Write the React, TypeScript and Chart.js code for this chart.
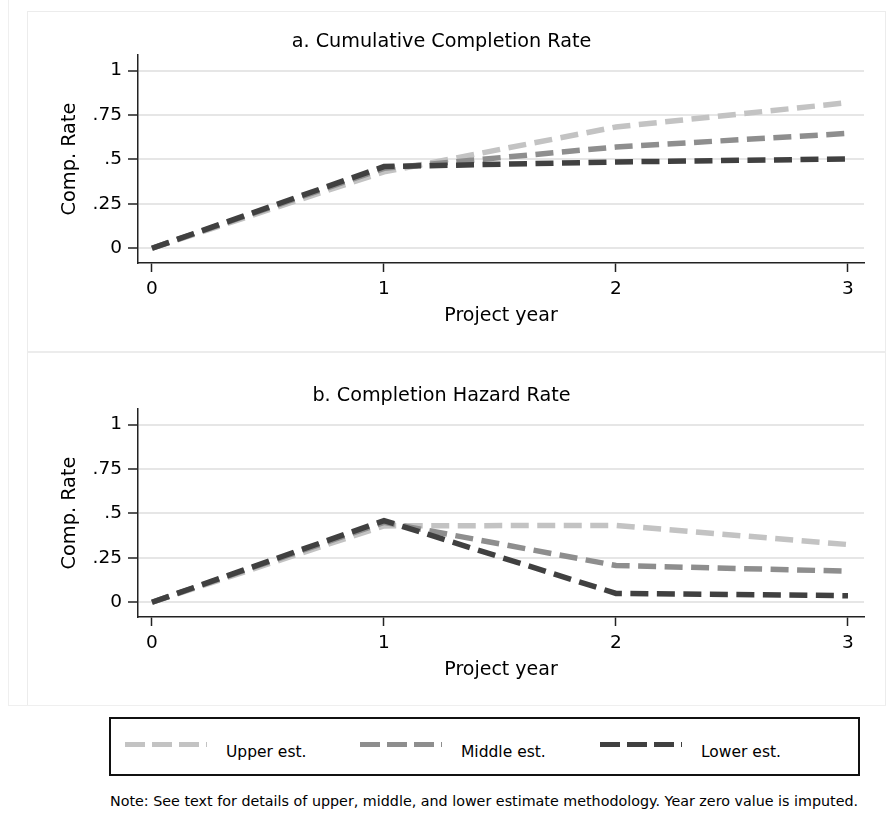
import React, { useEffect, useRef } from "react";
import { Chart, registerables } from "chart.js";

Chart.register(...registerables);

const years = [0, 1, 2, 3];
const yTickValues = [0, 0.25, 0.5, 0.75, 1];
const yTickLabels = ["0", ".25", ".5", ".75", "1"];

const cumUpper = [0, 0.43, 0.683, 0.82];
const cumMiddle = [0, 0.45, 0.57, 0.647];
const cumLower = [0, 0.46, 0.486, 0.503];

const hazUpper = [0, 0.43, 0.433, 0.325];
const hazMiddle = [0, 0.45, 0.207, 0.175];
const hazLower = [0, 0.46, 0.05, 0.037];

const seriesNames = ["Upper est.", "Middle est.", "Lower est."];
const seriesColors = ["#c3c3c3", "#8e8e8e", "#404040"];

const FONT = "'DejaVu Sans', sans-serif";

function makeConfig(title: string, series: number[][]) {
  const datasets = series.map((vals, i) => ({
    label: seriesNames[i],
    data: years.map((x, j) => ({ x, y: vals[j] })),
    borderColor: seriesColors[i],
    backgroundColor: seriesColors[i],
    borderWidth: 5.5,
    borderDash: [18, 8.5],
    borderCapStyle: "butt",
    borderJoinStyle: "miter",
    pointRadius: 0,
    tension: 0,
    fill: false,
    order: 2 - i,
  }));
  return {
    type: "line",
    data: { datasets },
    options: {
      animation: false,
      responsive: false,
      maintainAspectRatio: false,
      events: [],
      layout: { padding: { left: 0, right: 22, top: 0, bottom: 0 } },
      plugins: {
        legend: { display: false },
        tooltip: { enabled: false },
        title: {
          display: true,
          text: title,
          color: "#000",
          font: { family: FONT, size: 19.2, weight: "normal" },
          padding: { top: 19.5, bottom: 1.5 },
        },
      },
      scales: {
        x: {
          type: "linear",
          min: -0.0603,
          max: 3.069,
          afterBuildTicks: (s: any) => {
            s.ticks = years.map((v) => ({ value: v }));
          },
          afterFit: (s: any) => {
            s.height = 89;
          },
          grid: {
            drawOnChartArea: false,
            drawTicks: true,
            tickLength: 9,
            tickColor: "#222",
            tickWidth: 1.5,
          },
          border: { display: true, color: "#222", width: 1.5 },
          ticks: {
            color: "#000",
            font: { family: FONT, size: 18.5 },
            padding: 6.5,
            maxRotation: 0,
            autoSkip: false,
            callback: (v: any) => String(v),
          },
          title: {
            display: true,
            text: "Project year",
            color: "#000",
            font: { family: FONT, size: 19 },
            padding: { top: 0, bottom: 24.5 },
          },
        },
        y: {
          type: "linear",
          min: -0.083,
          max: 1.088,
          afterBuildTicks: (s: any) => {
            s.ticks = yTickValues.map((v) => ({ value: v }));
          },
          afterFit: (s: any) => {
            s.width = 119;
          },
          grid: {
            color: "#e6e6e6",
            lineWidth: 2,
            drawTicks: true,
            tickLength: 10,
            tickColor: "#222",
            tickWidth: 1.5,
          },
          border: { display: true, color: "#222", width: 1.5 },
          ticks: {
            color: "#000",
            font: { family: FONT, size: 18.5 },
            padding: 6,
            autoSkip: false,
            callback: (v: any) => {
              const k = yTickValues.indexOf(v);
              return k >= 0 ? yTickLabels[k] : "";
            },
          },
          title: {
            display: true,
            text: "Comp. Rate",
            color: "#000",
            font: { family: FONT, size: 19.3 },
            padding: { top: 39, bottom: 0 },
          },
        },
      },
    },
  };
}

function Panel(props: { title: string; series: number[][]; top: number }) {
  const ref = useRef<HTMLCanvasElement>(null);
  useEffect(() => {
    const chart = new Chart(ref.current as HTMLCanvasElement, makeConfig(props.title, props.series) as any);
    return () => chart.destroy();
  }, []);
  return (
    <canvas
      ref={ref}
      width={867}
      height={341}
      style={{ position: "absolute", left: 19, top: props.top, width: 867, height: 341 }}
    />
  );
}

function LegendSample(props: { color: string; left: number }) {
  return (
    <div
      style={{
        position: "absolute",
        left: props.left,
        top: 742,
        width: 82,
        height: 5,
        background: `repeating-linear-gradient(90deg, ${props.color} 0px, ${props.color} 20px, transparent 20px, transparent 27px)`,
      }}
    />
  );
}

function LegendText(props: { text: string; left: number }) {
  return (
    <div
      style={{
        position: "absolute",
        left: props.left,
        top: 741.5,
        height: 20,
        lineHeight: "20px",
        fontFamily: FONT,
        fontSize: 15.5,
        color: "#000",
        whiteSpace: "nowrap",
      }}
    >
      {props.text}
    </div>
  );
}

const sampleLefts = [125, 360, 600];
const textLefts = [226, 461, 701];

export default function App() {
  return (
    <div
      style={{
        position: "absolute",
        left: 0,
        top: 0,
        width: 891,
        height: 832,
        background: "#fff",
        overflow: "hidden",
      }}
    >
      <div style={{ position: "absolute", left: 8, top: 0, width: 1, height: 706, background: "#efefef" }} />
      <div
        style={{
          position: "absolute",
          left: 27,
          top: 11,
          width: 859,
          height: 341,
          border: "1px solid #ececec",
          boxSizing: "border-box",
        }}
      />
      <div
        style={{
          position: "absolute",
          left: 27,
          top: 352,
          width: 859,
          height: 354,
          border: "1px solid #ececec",
          boxSizing: "border-box",
        }}
      />
      <div style={{ position: "absolute", left: 8, top: 705, width: 878, height: 1, background: "#efefef" }} />
      <Panel title="a. Cumulative Completion Rate" series={[cumUpper, cumMiddle, cumLower]} top={11} />
      <Panel title="b. Completion Hazard Rate" series={[hazUpper, hazMiddle, hazLower]} top={365} />
      <div
        style={{
          position: "absolute",
          left: 109,
          top: 717,
          width: 751,
          height: 59,
          border: "2px solid #111",
          boxSizing: "border-box",
        }}
      />
      {seriesNames.map((n, i) => (
        <React.Fragment key={n}>
          <LegendSample color={seriesColors[i]} left={sampleLefts[i]} />
          <LegendText text={n} left={textLefts[i]} />
        </React.Fragment>
      ))}
      <div
        style={{
          position: "absolute",
          left: 110,
          top: 792,
          height: 18,
          lineHeight: "18px",
          fontFamily: FONT,
          fontSize: 14.3,
          color: "#000",
          whiteSpace: "nowrap",
        }}
      >
        Note: See text for details of upper, middle, and lower estimate methodology. Year zero value is imputed.
      </div>
    </div>
  );
}
